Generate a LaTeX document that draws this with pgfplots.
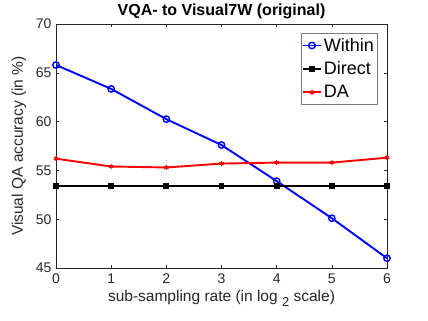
\documentclass[border=0pt]{standalone}
\usepackage{fontspec}
\setmainfont{Liberation Sans}
\usepackage{pgfplots}
\pgfplotsset{compat=1.18}
\definecolor{axgray}{HTML}{262626}
\begin{document}
\begin{tikzpicture}[x=1pt,y=1pt]
\useasboundingbox (-56,-53) rectangle (372,268);
\begin{axis}[
  at={(0,0)}, anchor=south west,
  scale only axis, width=331pt, height=244pt,
  xmin=0, xmax=6, ymin=45, ymax=70,
  xtick={0,...,6}, ytick={45,50,...,70},
  tick align=inside, major tick length=3pt,
  axis line style={axgray, line width=0.5pt},
  every tick/.style={axgray},
  tick label style={font=\fontsize{14}{16}\selectfont, text=axgray},
  xticklabel style={yshift=-2pt},
  yticklabel style={xshift=-1pt},
  /pgf/number format/assume math mode=true,
  title={\bfseries VQA- to Visual7W (original)},
  title style={font=\fontsize{16}{18}\selectfont, yshift=-4pt},
  xlabel={sub-sampling rate (in log \raisebox{-5pt}{\fontsize{13}{14}\selectfont 2} scale)},
  ylabel={Visual QA accuracy (in \%)},
  label style={font=\fontsize{15.5}{17}\selectfont, text=axgray},
  xlabel style={yshift=0pt},
  ylabel style={yshift=3pt},
  legend style={at={(0.97,0.963)}, anchor=north east, font=\fontsize{18}{20}\selectfont,
    draw=axgray!60, row sep=5pt, inner xsep=1pt, inner ysep=3pt},
  legend cell align=left,
  legend image post style={xscale=1.05},
]
\addplot[blue, line width=1.9pt, mark=o, mark size=3.2pt, mark options={line width=1.4pt}]
  coordinates {(0,65.8) (1,63.35) (2,60.25) (3,57.6) (4,53.9) (5,50.1) (6,46.0)};
\addplot[black, line width=1.9pt, mark=square*, mark size=2pt]
  coordinates {(0,53.4) (1,53.4) (2,53.4) (3,53.4) (4,53.4) (5,53.4) (6,53.4)};
\addplot[red, line width=1.9pt, mark=asterisk, mark size=2.5pt, mark options={line width=1.1pt}]
  coordinates {(0,56.2) (1,55.4) (2,55.3) (3,55.7) (4,55.8) (5,55.8) (6,56.3)};
\legend{Within, Direct, DA}
\end{axis}
\end{tikzpicture}
\end{document}
